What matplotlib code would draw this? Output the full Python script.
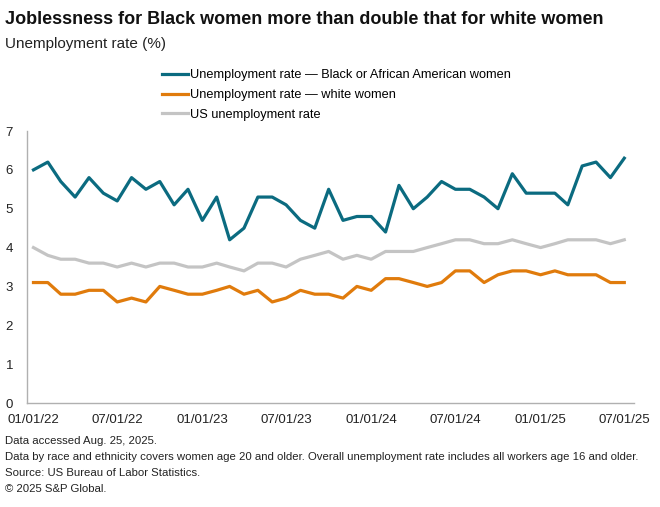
import matplotlib
matplotlib.use("Agg")
import matplotlib.pyplot as plt
import matplotlib.dates as mdates
import pandas as pd

plt.rcParams['font.family'] = ['Liberation Sans', 'DejaVu Sans']

# monthly data 01/2022 - 07/2025
dates = pd.date_range("2022-01-01", "2025-07-01", freq="MS")

black_women = [6.0, 6.2, 5.7, 5.3, 5.8, 5.4, 5.2, 5.8, 5.5, 5.7, 5.1, 5.5,
               4.7, 5.3, 4.2, 4.5, 5.3, 5.3, 5.1, 4.7, 4.5, 5.5, 4.7, 4.8,
               4.8, 4.4, 5.6, 5.0, 5.3, 5.7, 5.5, 5.5, 5.3, 5.0, 5.9, 5.4,
               5.4, 5.4, 5.1, 6.1, 6.2, 5.8, 6.3]
white_women = [3.1, 3.1, 2.8, 2.8, 2.9, 2.9, 2.6, 2.7, 2.6, 3.0, 2.9, 2.8,
               2.8, 2.9, 3.0, 2.8, 2.9, 2.6, 2.7, 2.9, 2.8, 2.8, 2.7, 3.0,
               2.9, 3.2, 3.2, 3.1, 3.0, 3.1, 3.4, 3.4, 3.1, 3.3, 3.4, 3.4,
               3.3, 3.4, 3.3, 3.3, 3.3, 3.1, 3.1]
us_rate = [4.0, 3.8, 3.7, 3.7, 3.6, 3.6, 3.5, 3.6, 3.5, 3.6, 3.6, 3.5,
           3.5, 3.6, 3.5, 3.4, 3.6, 3.6, 3.5, 3.7, 3.8, 3.9, 3.7, 3.8,
           3.7, 3.9, 3.9, 3.9, 4.0, 4.1, 4.2, 4.2, 4.1, 4.1, 4.2, 4.1,
           4.0, 4.1, 4.2, 4.2, 4.2, 4.1, 4.2]

labels = ["Unemployment rate \u2014 Black or African American women",
          "Unemployment rate \u2014 white women",
          "US unemployment rate"]
colors = ["#0b6b80", "#e07b0c", "#c4c4c4"]

fig = plt.figure(figsize=(6.6, 5.07), dpi=100)
ax = fig.add_axes([27/660, 104/507, 607/660, 272/507])

l1, = ax.plot(dates, black_women, color=colors[0], lw=2.3, label=labels[0])
l2, = ax.plot(dates, white_women, color=colors[1], lw=2.3, label=labels[1])
l3, = ax.plot(dates, us_rate, color=colors[2], lw=2.3, label=labels[2])

ax.set_ylim(0, 7)
ax.set_yticks(range(0, 8))
ax.set_xlim(pd.Timestamp("2021-12-18"), pd.Timestamp("2025-07-22"))
ax.set_xticks(pd.date_range("2022-01-01", "2025-07-01", freq="6MS"))
ax.xaxis.set_major_formatter(mdates.DateFormatter("%m/%d/%y"))

for s in ["top", "right"]:
    ax.spines[s].set_visible(False)
for s in ["left", "bottom"]:
    ax.spines[s].set_color("#b0b0b0")
    ax.spines[s].set_linewidth(1)
ax.tick_params(length=0, labelsize=9.5, colors="#222222")
ax.tick_params(axis="y", pad=10)
ax.tick_params(axis="x", pad=8)

fig.text(5/660, 1 - 20/507, "Joblessness for Black women more than double that for white women",
         fontsize=13, fontweight="bold", va="center", ha="left", color="#111111")
fig.text(5/660, 1 - 44/507, "Unemployment rate (%)", fontsize=11, va="center", ha="left",
         color="#222222")

fig.legend(handles=[l1, l2, l3], loc="upper left", bbox_to_anchor=(157/660, 1 - 64/507),
           frameon=False, fontsize=9.2, handlelength=2.0, handletextpad=0.2,
           labelspacing=0.62, borderaxespad=0)

notes = ["Data accessed Aug. 25, 2025.",
         "Data by race and ethnicity covers women age 20 and older. Overall unemployment rate includes all workers age 16 and older.",
         "Source: US Bureau of Labor Statistics.",
         "\u00a9 2025 S&P Global."]
for i, n in enumerate(notes):
    fig.text(5/660, 1 - (441 + 16*i)/507, n, fontsize=8.2, va="center", ha="left",
             color="#222222")

plt.savefig("out.png", dpi=100)
